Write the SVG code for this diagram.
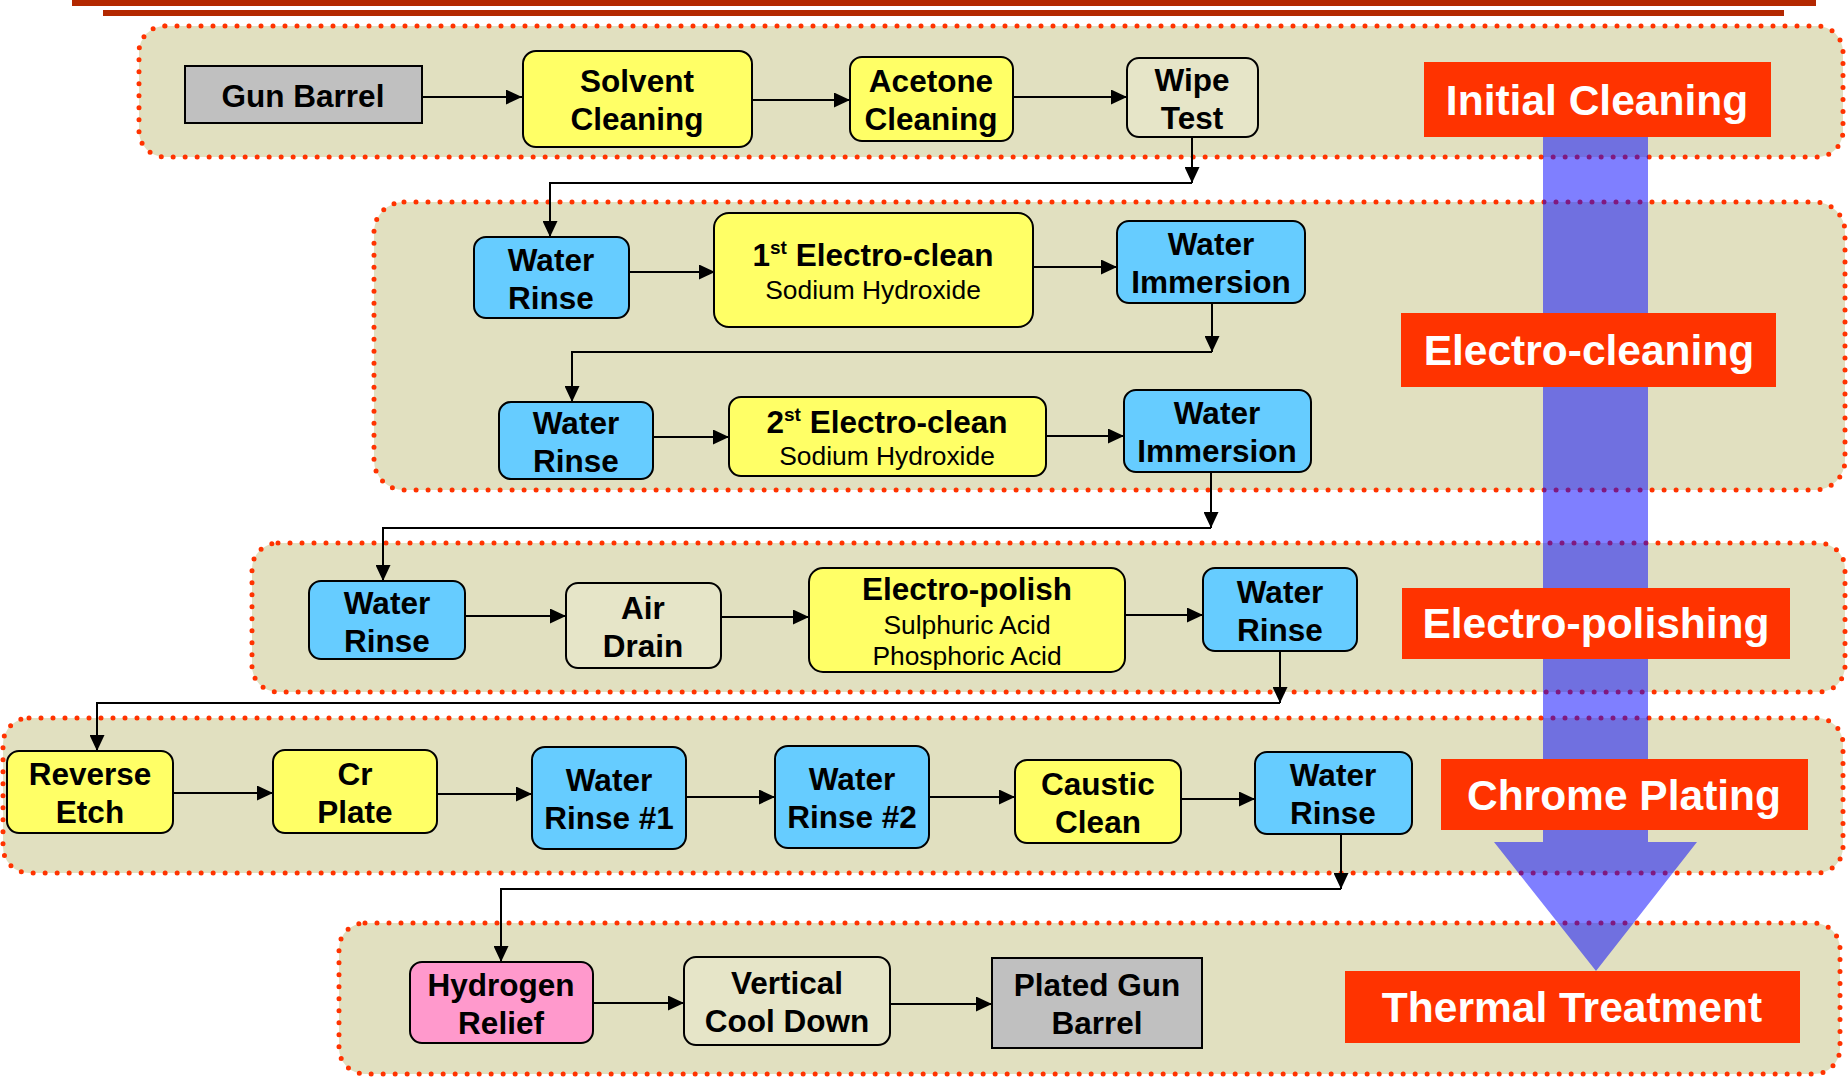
<svg xmlns="http://www.w3.org/2000/svg" width="1848" height="1077" viewBox="0 0 1848 1077">
<defs>
<marker id="ah" markerUnits="userSpaceOnUse" markerWidth="16" markerHeight="15" refX="16" refY="7.5" orient="auto">
<path d="M0,0 L16,7.5 L0,15 z" fill="#000"/>
</marker>
<style>
.grp{fill:#E1E0C0;stroke:#FF3300;stroke-width:5;stroke-dasharray:0 12;stroke-linecap:round}
.n{stroke:#000;stroke-width:2}
.y{fill:#FFFF66}.b{fill:#66CCFF}.g{fill:#C0C0C0}.p{fill:#FF99CC}.e{fill:#E6E5C8}
.t{font-family:"Liberation Sans",Arial,sans-serif;font-weight:bold;font-size:31.5px;fill:#000;text-anchor:middle}
.s{font-family:"Liberation Sans",Arial,sans-serif;font-size:26.4px;fill:#000;text-anchor:middle}
.lbl{fill:#FF3300}
.lt{font-family:"Liberation Sans",Arial,sans-serif;font-weight:bold;font-size:42.5px;fill:#fff;text-anchor:middle}
.c{fill:none;stroke:#000;stroke-width:2;marker-end:url(#ah)}
</style>
</defs>
<rect width="1848" height="1077" fill="#fff"/>
<g id="topbars">
<rect x="72" y="0" width="1744" height="6" fill="#B32800"/>
<rect x="103" y="10" width="1681" height="6" fill="#B32800"/>
</g>
<g id="groups">
<rect id="grp-initial" class="grp" x="139" y="26" width="1704" height="131" rx="26"/>
<rect id="grp-electroclean" class="grp" x="374" y="202" width="1471" height="288" rx="30"/>
<rect id="grp-electropolish" class="grp" x="252" y="543" width="1593" height="149" rx="26"/>
<rect id="grp-chrome" class="grp" x="3" y="718" width="1840" height="155" rx="26"/>
<rect id="grp-thermal" class="grp" x="339" y="923" width="1501" height="151" rx="26"/>
</g>
<g id="flow-arrow" opacity="0.5">
<path d="M1543,120 H1648 V842 H1697 L1596,971 L1494,842 H1543 Z" fill="#0000FF"/>
</g>
<g id="labels">
<g id="lbl-initial"><rect class="lbl" x="1424" y="62" width="347" height="75"/><text class="lt" x="1597" y="115">Initial Cleaning</text></g>
<g id="lbl-electroclean"><rect class="lbl" x="1401" y="313" width="375" height="74"/><text class="lt" x="1589" y="365">Electro-cleaning</text></g>
<g id="lbl-electropolish"><rect class="lbl" x="1402" y="588" width="388" height="71"/><text class="lt" x="1596" y="638">Electro-polishing</text></g>
<g id="lbl-chrome"><rect class="lbl" x="1441" y="759" width="367" height="71"/><text class="lt" x="1624" y="810">Chrome Plating</text></g>
<g id="lbl-thermal"><rect class="lbl" x="1345" y="971" width="455" height="72"/><text class="lt" x="1572" y="1022">Thermal Treatment</text></g>
</g>
<g id="connectors">
<path class="c" d="M422,97 H522"/>
<path class="c" d="M752,100 H850"/>
<path class="c" d="M1013,97 H1127"/>
<path class="c" d="M1192,137 V183"/>
<path class="c" d="M1192,183 H550 V237"/>
<path class="c" d="M629,272 H715"/>
<path class="c" d="M1032,267 H1117"/>
<path class="c" d="M1212,303 V352"/>
<path class="c" d="M1212,352 H572 V402"/>
<path class="c" d="M653,437 H729"/>
<path class="c" d="M1046,436 H1124"/>
<path class="c" d="M1211,472 V528"/>
<path class="c" d="M1211,528 H383 V581"/>
<path class="c" d="M465,616 H566"/>
<path class="c" d="M721,617 H809"/>
<path class="c" d="M1125,615 H1203"/>
<path class="c" d="M1280,651 V703"/>
<path class="c" d="M1280,703 H97 V751"/>
<path class="c" d="M173,793 H273"/>
<path class="c" d="M436,794 H532"/>
<path class="c" d="M686,797 H775"/>
<path class="c" d="M929,797 H1015"/>
<path class="c" d="M1181,799 H1255"/>
<path class="c" d="M1341,834 V889"/>
<path class="c" d="M1341,889 H501 V962"/>
<path class="c" d="M593,1003 H684"/>
<path class="c" d="M890,1004 H992"/>
</g>
<g id="n-gunbarrel"><rect class="n g" x="185" y="66" width="237" height="57"/><text class="t" x="303" y="107">Gun Barrel</text></g>
<g id="n-solvent"><rect class="n y" x="523" y="51" width="229" height="96" rx="13"/><text class="t" x="637" y="92">Solvent</text><text class="t" x="637" y="130">Cleaning</text></g>
<g id="n-acetone"><rect class="n y" x="850" y="57" width="163" height="84" rx="12"/><text class="t" x="931" y="92">Acetone</text><text class="t" x="931" y="130">Cleaning</text></g>
<g id="n-wipe"><rect class="n e" x="1127" y="58" width="131" height="79" rx="12"/><text class="t" x="1192" y="91">Wipe</text><text class="t" x="1192" y="129">Test</text></g>
<g id="n-wr1"><rect class="n b" x="474" y="237" width="155" height="81" rx="12"/><text class="t" x="551" y="271">Water</text><text class="t" x="551" y="309">Rinse</text></g>
<g id="n-ec1"><rect class="n y" x="714" y="213" width="319" height="114" rx="15"/><text class="t" x="873" y="266">1<tspan font-size="19" dy="-12">st</tspan><tspan dy="12"> Electro-clean</tspan></text><text class="s" x="873" y="299">Sodium Hydroxide</text></g>
<g id="n-wi1"><rect class="n b" x="1117" y="221" width="188" height="82" rx="12"/><text class="t" x="1211" y="255">Water</text><text class="t" x="1211" y="293">Immersion</text></g>
<g id="n-wr2"><rect class="n b" x="499" y="402" width="154" height="77" rx="12"/><text class="t" x="576" y="434">Water</text><text class="t" x="576" y="472">Rinse</text></g>
<g id="n-ec2"><rect class="n y" x="729" y="397" width="317" height="79" rx="12"/><text class="t" x="887" y="433">2<tspan font-size="19" dy="-12">st</tspan><tspan dy="12"> Electro-clean</tspan></text><text class="s" x="887" y="465">Sodium Hydroxide</text></g>
<g id="n-wi2"><rect class="n b" x="1124" y="390" width="187" height="82" rx="12"/><text class="t" x="1217" y="424">Water</text><text class="t" x="1217" y="462">Immersion</text></g>
<g id="n-wr3"><rect class="n b" x="309" y="581" width="156" height="78" rx="12"/><text class="t" x="387" y="614">Water</text><text class="t" x="387" y="652">Rinse</text></g>
<g id="n-airdrain"><rect class="n e" x="566" y="583" width="155" height="85" rx="12"/><text class="t" x="643" y="619">Air</text><text class="t" x="643" y="657">Drain</text></g>
<g id="n-electropolish"><rect class="n y" x="809" y="568" width="316" height="104" rx="14"/><text class="t" x="967" y="600">Electro-polish</text><text class="s" x="967" y="634">Sulphuric Acid</text><text class="s" x="967" y="665">Phosphoric Acid</text></g>
<g id="n-wr4"><rect class="n b" x="1203" y="568" width="154" height="83" rx="12"/><text class="t" x="1280" y="603">Water</text><text class="t" x="1280" y="641">Rinse</text></g>
<g id="n-reverseetch"><rect class="n y" x="7" y="751" width="166" height="82" rx="12"/><text class="t" x="90" y="785">Reverse</text><text class="t" x="90" y="823">Etch</text></g>
<g id="n-crplate"><rect class="n y" x="273" y="750" width="164" height="83" rx="12"/><text class="t" x="355" y="785">Cr</text><text class="t" x="355" y="823">Plate</text></g>
<g id="n-wrn1"><rect class="n b" x="532" y="747" width="154" height="102" rx="13"/><text class="t" x="609" y="791">Water</text><text class="t" x="609" y="829">Rinse #1</text></g>
<g id="n-wrn2"><rect class="n b" x="775" y="746" width="154" height="102" rx="13"/><text class="t" x="852" y="790">Water</text><text class="t" x="852" y="828">Rinse #2</text></g>
<g id="n-caustic"><rect class="n y" x="1015" y="760" width="166" height="83" rx="12"/><text class="t" x="1098" y="795">Caustic</text><text class="t" x="1098" y="833">Clean</text></g>
<g id="n-wr5"><rect class="n b" x="1255" y="752" width="157" height="82" rx="12"/><text class="t" x="1333" y="786">Water</text><text class="t" x="1333" y="824">Rinse</text></g>
<g id="n-hydrogen"><rect class="n p" x="410" y="962" width="183" height="81" rx="12"/><text class="t" x="501" y="996">Hydrogen</text><text class="t" x="501" y="1034">Relief</text></g>
<g id="n-cooldown"><rect class="n e" x="684" y="957" width="206" height="88" rx="12"/><text class="t" x="787" y="994">Vertical</text><text class="t" x="787" y="1032">Cool Down</text></g>
<g id="n-plated"><rect class="n g" x="992" y="958" width="210" height="90"/><text class="t" x="1097" y="996">Plated Gun</text><text class="t" x="1097" y="1034">Barrel</text></g>
</svg>
